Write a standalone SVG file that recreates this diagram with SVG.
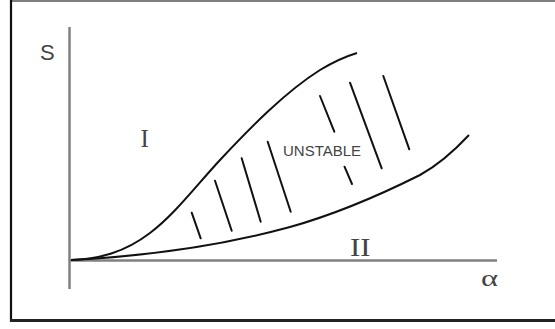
<svg xmlns="http://www.w3.org/2000/svg" width="555" height="329" viewBox="0 0 555 329">
<style>
.axis{stroke:#808080;stroke-width:2.5;fill:none}
.curve{stroke:#111;stroke-width:2;fill:none}
.hatch{stroke:#111;stroke-width:2;fill:none;stroke-linecap:round}
.lab{font-family:"Liberation Sans",Arial,sans-serif;fill:#444}
.rom{font-family:"Liberation Serif","Times New Roman",serif;fill:#444}
</style>
<rect x="0" y="0" width="555" height="329" fill="#fff"/>
<g id="frame">
<line x1="10" y1="1" x2="555" y2="1" stroke="#555" stroke-width="1.5"/>
<line x1="11" y1="0" x2="11" y2="322" stroke="#111" stroke-width="2.2"/>
<line x1="10" y1="320.5" x2="555" y2="320.5" stroke="#222" stroke-width="3"/>
</g>
<g id="axes">
<line class="axis" x1="69.5" y1="27" x2="69.5" y2="289"/>
<line class="axis" x1="69" y1="260.5" x2="497" y2="260.5"/>
</g>
<g id="connectors">
<path id="upper-curve" class="curve" d="M71,260 C100,259 125,252 150,233 C175,214 195,187 220,160 C250,128 285,92 320,70 C335,61 347,56 357,53"/>
<path id="lower-curve" class="curve" d="M71,260 C150,256 220,246 290,227 C340,213 380,195 420,175 C440,164 455,150 469,135"/>
</g>
<g id="hatching">
<line class="hatch" x1="191.7" y1="212.7" x2="200.7" y2="238.3"/>
<line class="hatch" x1="215" y1="180.7" x2="231.7" y2="230.7"/>
<line class="hatch" x1="241.7" y1="158.3" x2="260.7" y2="221.7"/>
<line class="hatch" x1="267.7" y1="141.7" x2="290.7" y2="211.7"/>
<line class="hatch" x1="320" y1="96" x2="334.3" y2="131.7"/>
<line class="hatch" x1="350" y1="82.7" x2="381.7" y2="168.3"/>
<line class="hatch" x1="383.3" y1="76" x2="409.3" y2="149.3"/>
<line class="hatch" x1="344.5" y1="166.7" x2="352" y2="184"/>
</g>
<g id="label-S"><text class="lab" x="40" y="59.5" font-size="22">S</text></g>
<g id="label-I"><text class="rom" x="140.5" y="147" font-size="25">I</text></g>
<g id="label-II"><text class="rom" x="350" y="256" font-size="25" textLength="20.5" lengthAdjust="spacingAndGlyphs">II</text></g>
<g id="label-unstable"><text class="lab" x="283" y="156" font-size="15" fill="#333">UNSTABLE</text></g>
<g id="label-alpha"><text class="rom" x="481" y="286" font-size="24" textLength="17" lengthAdjust="spacingAndGlyphs">α</text></g>
</svg>
